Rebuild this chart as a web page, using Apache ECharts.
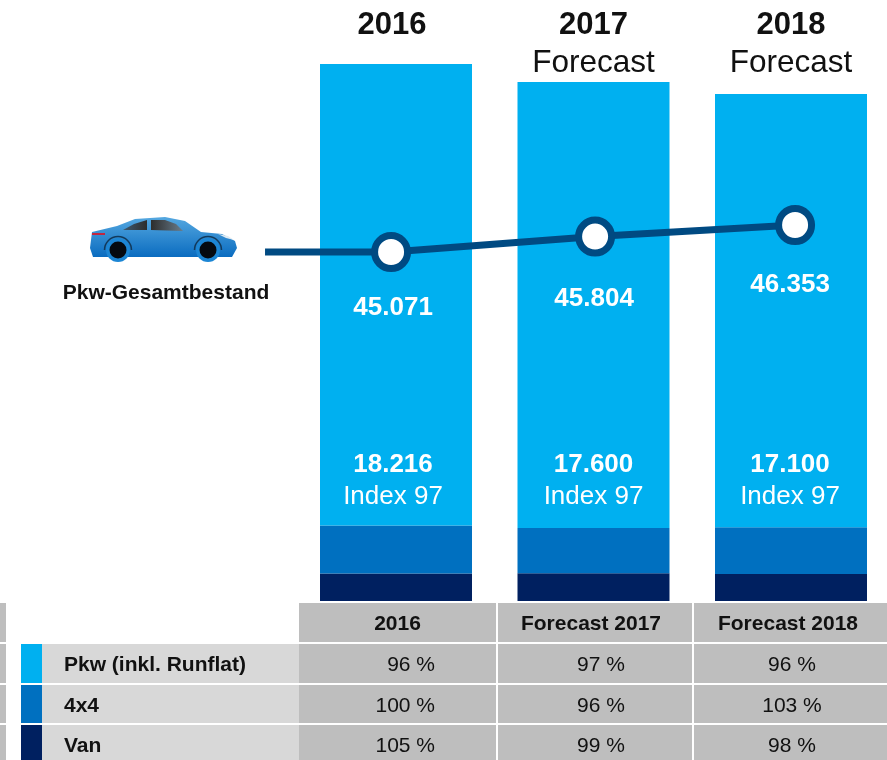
<!DOCTYPE html>
<html>
<head>
<meta charset="utf-8">
<title>Pkw-Gesamtbestand</title>
<style>
  html, body { margin: 0; padding: 0; background: #fff; }
  #chart { width: 887px; height: 760px; }
</style>
<script src="https://cdn.jsdelivr.net/npm/echarts@6/dist/echarts.min.js"></script>
</head>
<body>
<div id="chart"></div>
<script>
// data
const years = ['2016', '2017', '2018'];
const yearNotes = ['', 'Forecast', 'Forecast'];
const pkw = [18216, 17600, 17100];
const x4 = [1897, 1790, 1845];
const van = [1087, 1095, 1067];
const indexLabels = ['Index 97', 'Index 97', 'Index 97'];
const stockName = 'Pkw-Gesamtbestand';
const stockYears = [2016, 2017.01, 2018];
const stock = [45071, 45804, 46353];
const tableHead = ['2016', 'Forecast 2017', 'Forecast 2018'];
const tableRows = ['Pkw (inkl. Runflat)', '4x4', 'Van'];
const tablePkw = ['96 %', '97 %', '96 %'];
const tableX4 = ['100 %', '96 %', '103 %'];
const tableVan = ['105 %', '99 %', '98 %'];

const FONT = '"Liberation Sans", Arial, sans-serif';
const rowColors = ['#00b0f0', '#0070c0', '#002060'];
const fmt = v => String(v).replace(/(\d)(\d{3})$/, '$1.$2');

const chart = echarts.init(document.getElementById('chart'));

// table below the bars
const cols = [[299, 197], [498, 194], [694, 193]];
const headX = [397.5, 591, 788];
const cellX = [[435, 'right'], [601, 'center'], [792, 'center']];
const rows = [[644, 39], [685, 38], [725, 35]];
const tableValues = [tablePkw, tableX4, tableVan];
const table = [];
const rect = (x, y, width, height, fill) => ({
  type: 'rect', shape: { x, y, width, height }, style: { fill }, silent: true
});
const text = (x, y, str, font, fill, align) => ({
  type: 'text', x, y, z: 5, silent: true,
  style: { text: str, font, fill: fill || '#111', align: align || 'center', verticalAlign: 'middle' }
});
table.push(rect(0, 603, 6, 39, '#bebebe'));
cols.forEach((c, i) => {
  table.push(rect(c[0], 603, c[1], 39, '#bebebe'));
  table.push(text(headX[i], 624, tableHead[i], 'bold 21px ' + FONT));
});
rows.forEach((r, i) => {
  table.push(rect(0, r[0], 6, r[1], '#bebebe'));
  table.push(rect(21, r[0], 21, r[1], rowColors[i]));
  table.push(rect(42, r[0], 257, r[1], '#d8d8d8'));
  table.push(text(64, r[0] + 21, tableRows[i], 'bold 21px ' + FONT, '#111', 'left'));
  cols.forEach((c, j) => {
    table.push(rect(c[0], r[0], c[1], r[1], '#bebebe'));
    table.push(text(cellX[j][0], r[0] + 21, tableValues[i][j], '21px ' + FONT, '#111', cellX[j][1]));
  });
});

// car icon
const car = {
  type: 'group', silent: true,
  children: [
    { type: 'polygon', shape: { points: [[92, 232], [117, 226], [135, 219], [165, 217], [185, 221], [201, 232], [222, 234], [235, 241], [237, 248], [232, 257], [93, 257], [90, 248]] },
      style: { fill: { type: 'linear', x: 0, y: 0, x2: 0, y2: 1, colorStops: [{ offset: 0, color: '#55a8e0' }, { offset: 1, color: '#0a6cc0' }] } } },
    { type: 'polygon', shape: { points: [[123, 230], [134, 224], [147, 220], [147, 230]] },
      style: { fill: { type: 'linear', x: 0, y: 0, x2: 1, y2: 0, colorStops: [{ offset: 0, color: '#3f5a70' }, { offset: 1, color: '#2d2d2d' }] } } },
    { type: 'polygon', shape: { points: [[151, 220], [165, 220], [176, 224], [183, 231], [151, 230]] },
      style: { fill: { type: 'linear', x: 0, y: 0, x2: 1, y2: 0, colorStops: [{ offset: 0, color: '#2d2d2d' }, { offset: 1, color: '#6a7d8c' }] } } },
    { type: 'rect', shape: { x: 92, y: 233, width: 13, height: 2 }, style: { fill: '#c2263f' } },
    { type: 'polygon', shape: { points: [[218, 234], [228, 236], [234, 240], [226, 238]] }, style: { fill: '#dfeaf2' } },
    { type: 'circle', shape: { cx: 118, cy: 250, r: 12 }, style: { fill: '#1c86d4' } },
    { type: 'arc', shape: { cx: 118, cy: 250, r: 13.5, startAngle: Math.PI, endAngle: 2 * Math.PI }, style: { stroke: '#123a5c', lineWidth: 1.5, fill: null } },
    { type: 'circle', shape: { cx: 118, cy: 250, r: 8.5 }, style: { fill: '#050a10' } },
    { type: 'circle', shape: { cx: 208, cy: 250, r: 12 }, style: { fill: '#1c86d4' } },
    { type: 'arc', shape: { cx: 208, cy: 250, r: 13.5, startAngle: Math.PI, endAngle: 2 * Math.PI }, style: { stroke: '#123a5c', lineWidth: 1.5, fill: null } },
    { type: 'circle', shape: { cx: 208, cy: 250, r: 8.5 }, style: { fill: '#050a10' } }
  ]
};

const stackBar = (name, data, i) => ({
  name, type: 'bar', stack: 'total', data, barWidth: 152, xAxisIndex: 0, yAxisIndex: 0,
  itemStyle: { color: rowColors[i] }, silent: true
});

const pkwOffsets = [[-3, 1], [0, -1], [-1, 0]];
const stockOffsets = [[2, 23], [-1, 29], [-5, 27]];
const titlePadding = [[0, 8, 0, 0], [0, 0, 0, 0], [0, 0, 0, 0]];

chart.setOption({
  animation: false,
  grid: [
    { left: 297.25, right: -2.75, top: 64, bottom: 159, outerBoundsMode: 'none' },
    { left: 0, right: 0, top: 64, bottom: 159, outerBoundsMode: 'none' }
  ],
  xAxis: [
    {
      type: 'category', gridIndex: 0, position: 'top',
      data: years.map((y, i) => ({ value: y, textStyle: { padding: titlePadding[i] } })),
      axisLine: { show: false }, axisTick: { show: false },
      axisLabel: {
        margin: -18, interval: 0,
        formatter: (v, i) => '{y|' + v + '}\n{f|' + (yearNotes[i] || ' ') + '}',
        rich: {
          y: { fontFamily: FONT, fontWeight: 'bold', fontSize: 31, color: '#111', lineHeight: 38, align: 'center' },
          f: { fontFamily: FONT, fontSize: 31.5, color: '#111', lineHeight: 38, align: 'center' }
        }
      }
    },
    { type: 'value', gridIndex: 1, min: 2014.064, max: 2018.455, show: false }
  ],
  yAxis: [
    { type: 'value', gridIndex: 0, min: 0, max: 21200, show: false },
    { type: 'value', gridIndex: 1, min: 28500, max: 54000, show: false }
  ],
  series: [
    stackBar('Van', van, 2),
    stackBar('4x4', x4, 1),
    stackBar('Pkw (inkl. Runflat)', pkw.map((v, i) => ({
      value: v,
      label: {
        show: true, position: 'insideBottom', distance: 14, offset: pkwOffsets[i],
        formatter: '{a|' + fmt(v) + '}\n{b|' + indexLabels[i] + '}',
        rich: {
          a: { fontFamily: FONT, fontWeight: 'bold', fontSize: 26, color: '#fff', lineHeight: 32, align: 'center' },
          b: { fontFamily: FONT, fontSize: 26, color: '#fff', lineHeight: 32, align: 'center' }
        }
      }
    })), 0),
    {
      name: stockName + ' lead', type: 'line', xAxisIndex: 1, yAxisIndex: 1, z: 4, silent: true,
      data: [[2015.376, stock[0]], [stockYears[0], stock[0]]],
      symbol: 'none', lineStyle: { color: '#004a82', width: 7 }
    },
    {
      name: stockName, type: 'line', xAxisIndex: 1, yAxisIndex: 1, z: 5, silent: true,
      data: stock.map((v, i) => ({
        value: [stockYears[i], v],
        label: {
          show: true, position: 'bottom', distance: 0, offset: stockOffsets[i],
          formatter: fmt(v), fontFamily: FONT, fontWeight: 'bold', fontSize: 26, color: '#fff'
        }
      })),
      symbol: 'circle', symbolSize: 33,
      itemStyle: { color: '#fff', borderColor: '#004a82', borderWidth: 7 },
      lineStyle: { color: '#004a82', width: 7 }
    }
  ],
  graphic: { elements: table.concat([car, text(166, 293, stockName, 'bold 21px ' + FONT, '#111')]) }
});
</script>
</body>
</html>
